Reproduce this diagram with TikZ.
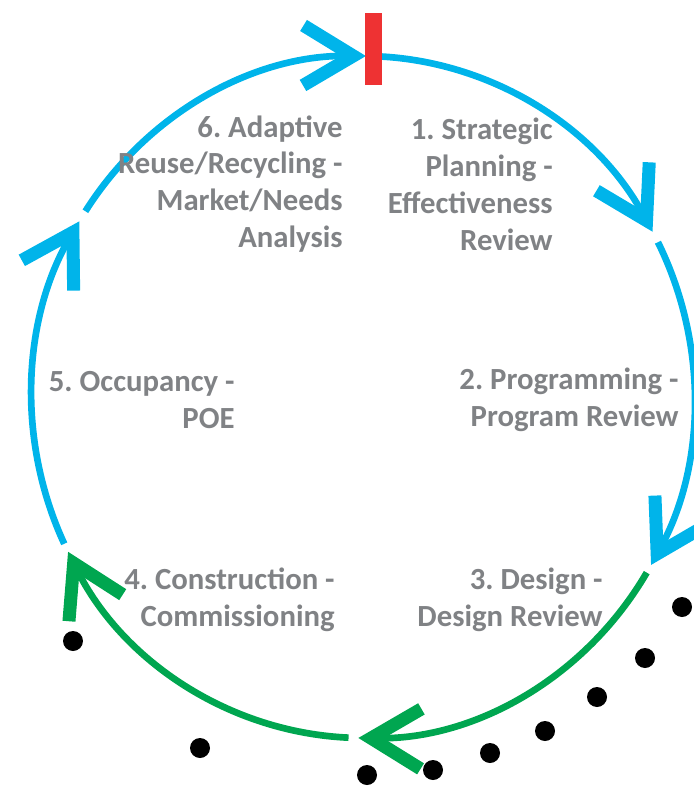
\documentclass[tikz,border=0pt]{standalone}
\usepackage{fontspec}
\setmainfont{Carlito}
\usepackage{tikz}
\usepackage{xcolor}
\usetikzlibrary{arrows.meta,positioning}
\definecolor{cycleblue}{HTML}{00B4EA}
\definecolor{cyclegreen}{HTML}{00A650}
\definecolor{markred}{HTML}{EE3233}
\definecolor{labelgray}{HTML}{808285}
\tikzset{
  stage/.style={align=right,inner sep=0pt,text=labelgray,
                font=\fontsize{17.5}{21}\selectfont\bfseries\frenchspacing},
  ring/.style={line width=3.8pt},
  ringarr/.style={ring,-{Straight Barb[length=1cm,width=1.2cm,line width=7.4pt]}},
  blackdot/.style={circle,fill=black,inner sep=0pt,minimum size=0.4cm}
}

\begin{document}
\begin{tikzpicture}[x=0.02cm,y=-0.02cm]
  \useasboundingbox (0,0) rectangle (693,787);
  \coordinate (ctr) at (363,397);
  % the cycle, clockwise, one arc per stage pair
  \foreach \col/\from/\to in {cycleblue/213/270.5,cycleblue/272/331,
      cycleblue/333/389.5,cyclegreen/391/450.8,cyclegreen/452.5/513,
      cycleblue/514.5/571}
    \draw[ringarr,\col] (ctr) ++(\from:331 and 341)
      arc[start angle=\from,end angle=\to,x radius=331,y radius=341];
  \fill[markred] (365,13) rectangle (382,85);

  \node[stage,anchor=east] (s6) at (343,184)
    {6. Adaptive\\Reuse/Recycling -\\Market/Needs\\Analysis};
  \node[stage,anchor=east] (s1) at (553,184)
    {1. Strategic\\Planning -\\Effectiveness\\Review};
  \node[stage,anchor=east] (s5) at (235,400) {5. Occupancy -\\POE};
  \node[stage,anchor=east] (s2) at (679,400) {2. Programming -\\Program Review};
  \node[stage,anchor=east] (s4) at (335,600) {4. Construction -\\Commissioning};
  \node[stage,anchor=east] (s3) at (603,600) {3. Design -\\Design Review};

  \foreach \px/\py [count=\i] in {73/641,200/748,367/775,433/770,490/753,
      545/731,597/697,645/658,682/607}
    \node[blackdot] (dot\i) at (\px,\py) {};
\end{tikzpicture}
\end{document}
